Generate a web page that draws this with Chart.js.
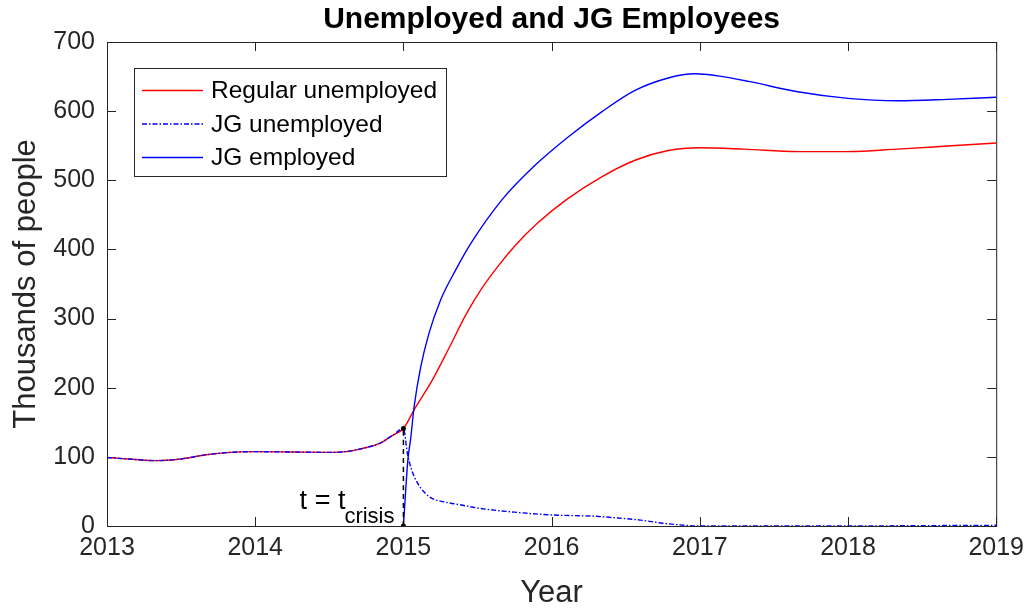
<!DOCTYPE html>
<html>
<head>
<meta charset="utf-8">
<script src="https://cdn.jsdelivr.net/npm/chart.js@4.4.0/dist/chart.umd.min.js"></script>
<style>
  html, body { margin: 0; padding: 0; background: #fff; }
  #wrap { width: 1031px; height: 610px; }
</style>
</head>
<body>
<div id="wrap"><canvas id="chart" width="1031" height="610"></canvas></div>
<script>
// Values (thousands of people)
// ======================

var regularYears  = [2013.0, 2013.17, 2013.33, 2013.5, 2013.67, 2013.83, 2014.0, 2014.25, 2014.5, 2014.61, 2014.72, 2014.84, 2014.93, 2015.0,
                     2015.072, 2015.195, 2015.307, 2015.42, 2015.53, 2015.643, 2015.756, 2015.9, 2016.1, 2016.338, 2016.563, 2016.787,
                     2017.0, 2017.3, 2017.66, 2018.0, 2018.33, 2018.67, 2019.0];
var regularValues = [99, 96.5, 94.5, 97, 103, 106.5, 107.5, 107, 106.5, 107.5, 112, 119.5, 131.5, 141,
                     168, 211, 257, 305, 344, 377, 406, 437, 472, 505, 529, 543,
                     547, 545, 541.5, 541.5, 545, 549.5, 554];

var jgUnempYears  = [2013.0, 2013.17, 2013.33, 2013.5, 2013.67, 2013.83, 2014.0, 2014.25, 2014.5, 2014.61, 2014.72, 2014.84, 2014.93, 2015.0,
                     2015.027, 2015.05, 2015.072, 2015.117, 2015.184, 2015.273, 2015.4, 2015.5, 2015.75, 2016.0, 2016.3, 2016.45,
                     2016.6, 2016.75, 2016.9, 2017.0, 2018.0, 2018.5, 2019.0];
var jgUnempValues = [99, 96.5, 94.5, 97, 103, 106.5, 107.5, 107, 106.5, 107.5, 112, 119.5, 131.5, 141,
                     105, 85, 72, 55, 41, 35, 30, 26, 20, 16, 14, 11.5,
                     8.5, 4, 1, 0, 0, 0.5, 1];

var jgEmpYears    = [2015.0, 2015.03, 2015.05, 2015.072, 2015.117, 2015.173, 2015.251, 2015.352, 2015.45, 2015.666, 2015.89,
                     2016.114, 2016.338, 2016.563, 2016.787, 2016.967, 2017.12, 2017.33, 2017.66, 2018.0, 2018.33, 2018.67, 2019.0];
var jgEmpValues   = [0, 95, 128, 172, 230, 279, 327, 370, 407, 472, 522,
                     563, 599, 630, 648, 654, 651, 643, 628, 618.5, 615, 617, 620];

var crisisYear  = 2015;
var crisisLevel = 141;

var xTicks = [2013, 2014, 2015, 2016, 2017, 2018, 2019];
var yTicks = [0, 100, 200, 300, 400, 500, 600, 700];

var axisColor = '#262626';
var fontFamily = '"Liberation Sans", Arial, Helvetica, sans-serif';

function toPoints(xs, ys) {
    return xs.map(function (x, i) { return { x: x, y: ys[i] }; });
}

// Box around the axes with MATLAB-style inward ticks, legend and crisis label
var matlabAxes = {
    id: 'matlabAxes',
    beforeDatasetsDraw: function (chart) {
        var ctx = chart.ctx, a = chart.chartArea, xs = chart.scales.x, ys = chart.scales.y, len = 9;
        ctx.save();
        ctx.strokeStyle = axisColor;
        ctx.lineWidth = 1;
        ctx.strokeRect(a.left + 0.5, a.top + 0.5, a.right - a.left, a.bottom - a.top);
        ctx.beginPath();
        xTicks.forEach(function (v) {
            var px = Math.round(xs.getPixelForValue(v)) + 0.5;
            ctx.moveTo(px, a.bottom); ctx.lineTo(px, a.bottom - len);
            ctx.moveTo(px, a.top); ctx.lineTo(px, a.top + len);
        });
        yTicks.forEach(function (v) {
            var py = Math.round(ys.getPixelForValue(v)) + 0.5;
            ctx.moveTo(a.left, py); ctx.lineTo(a.left + len, py);
            ctx.moveTo(a.right, py); ctx.lineTo(a.right - len, py);
        });
        ctx.stroke();
        ctx.restore();
    },
    afterDatasetsDraw: function (chart) {
        var ctx = chart.ctx, a = chart.chartArea, xs = chart.scales.x, ys = chart.scales.y;
        ctx.save();

        // t = t_crisis
        var cx = xs.getPixelForValue(crisisYear), cy = ys.getPixelForValue(0);
        ctx.fillStyle = '#000';
        ctx.textBaseline = 'alphabetic';
        ctx.textAlign = 'right';
        ctx.font = '27px ' + fontFamily;
        ctx.fillText('t = t', cx - 58, cy - 17);
        ctx.textAlign = 'left';
        ctx.font = '22px ' + fontFamily;
        ctx.fillText('crisis', cx - 59, cy - 3);

        // legend
        var lx = a.left + 27, ly = a.top + 26, lw = 312, lh = 108, row = 33.5;
        ctx.fillStyle = '#fff';
        ctx.fillRect(lx, ly, lw, lh);
        ctx.strokeStyle = axisColor;
        ctx.lineWidth = 1;
        ctx.strokeRect(lx + 0.5, ly + 0.5, lw, lh);
        ctx.font = '24.5px ' + fontFamily;
        ctx.textBaseline = 'middle';
        ctx.textAlign = 'left';
        var entries = chart.data.datasets.filter(function (d) { return d.label; });
        entries.forEach(function (d, i) {
            var y = ly + 22 + i * row + 0.5;
            ctx.save();
            ctx.strokeStyle = d.borderColor;
            ctx.lineWidth = d.borderWidth;
            ctx.setLineDash(d.borderDash || []);
            ctx.beginPath();
            ctx.moveTo(lx + 8, y);
            ctx.lineTo(lx + 69, y);
            ctx.stroke();
            ctx.restore();
            ctx.fillStyle = '#000';
            ctx.fillText(d.label, lx + 77, y + 1);
        });
        ctx.restore();
    }
};

new Chart(document.getElementById('chart'), {
    type: 'line',
    data: {
        datasets: [
            {
                label: 'Regular unemployed',
                data: toPoints(regularYears, regularValues),
                borderColor: '#ff0000',
                borderWidth: 1.4,
                order: 3
            },
            {
                label: 'JG unemployed',
                data: toPoints(jgUnempYears, jgUnempValues),
                borderColor: '#0000ff',
                borderWidth: 1.4,
                borderDash: [5, 2, 1.5, 2],
                order: 1
            },
            {
                label: 'JG employed',
                data: toPoints(jgEmpYears, jgEmpValues),
                borderColor: '#0000ff',
                borderWidth: 1.4,
                order: 2
            },
            {
                label: '',
                data: [{ x: crisisYear, y: 0 }, { x: crisisYear, y: crisisLevel }],
                borderColor: '#000',
                backgroundColor: '#000',
                borderWidth: 1.5,
                borderDash: [5, 4],
                pointRadius: 2.5,
                pointBorderWidth: 0,
                order: 0
            }
        ]
    },
    options: {
        responsive: false,
        animation: false,
        cubicInterpolationMode: 'monotone',
        layout: { padding: { left: 0, right: 33, top: 0, bottom: 0 } },
        elements: { point: { radius: 0 } },
        plugins: {
            legend: { display: false },
            tooltip: { enabled: false },
            title: {
                display: true,
                fullSize: false,
                text: 'Unemployed and JG Employees',
                color: '#000',
                font: { family: fontFamily, size: 30, weight: 'bold' },
                padding: { top: 2, bottom: 4 }
            }
        },
        scales: {
            x: {
                type: 'linear',
                min: 2013,
                max: 2019,
                afterFit: function (s) { s.height = 84; },
                afterBuildTicks: function (s) { s.ticks = xTicks.map(function (v) { return { value: v }; }); },
                grid: { display: false, drawTicks: false },
                border: { display: false },
                ticks: {
                    color: axisColor,
                    padding: 7,
                    font: { family: fontFamily, size: 25 },
                    callback: function (v) { return String(v); }
                },
                title: {
                    display: true,
                    text: 'Year',
                    color: axisColor,
                    font: { family: fontFamily, size: 31 },
                    padding: { top: 0, bottom: -2 }
                }
            },
            y: {
                min: 0,
                max: 700,
                afterFit: function (s) { s.width = 107; },
                afterBuildTicks: function (s) { s.ticks = yTicks.map(function (v) { return { value: v }; }); },
                grid: { display: false, drawTicks: false },
                border: { display: false },
                ticks: {
                    color: axisColor,
                    padding: 12,
                    font: { family: fontFamily, size: 25 },
                    callback: function (v) { return String(v); }
                },
                title: {
                    display: true,
                    text: 'Thousands of people',
                    color: axisColor,
                    font: { family: fontFamily, size: 31 },
                    padding: { top: 8, bottom: 0 }
                }
            }
        }
    },
    plugins: [matlabAxes]
});
</script>
</body>
</html>
